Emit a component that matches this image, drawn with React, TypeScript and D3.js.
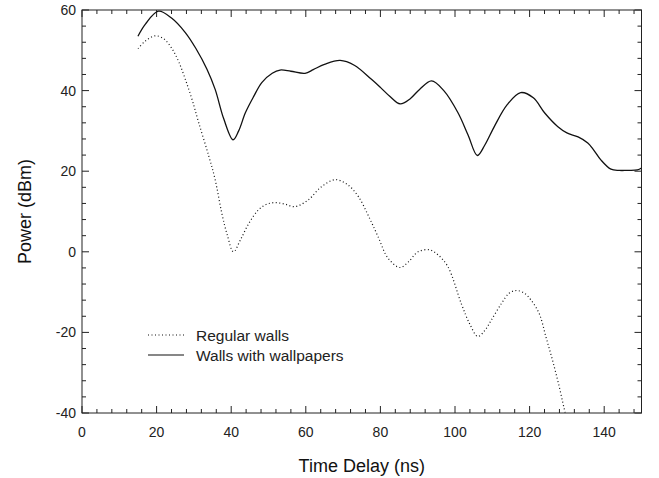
import React from "react";
import * as d3 from "d3";

const xWall = [15, 17, 20.5, 24, 27.7, 30.5, 33.5, 35.7, 38, 40.5, 42, 43.8, 46, 48.2, 51, 53.1, 56, 59.8, 62, 65, 69.2, 73, 77.6, 80, 82.5, 85.3, 88, 90.5, 93.7, 97, 100.8, 103.5, 106, 108, 110.6, 114, 117.6, 121, 124, 127.5, 130, 133, 135.6, 137, 139.1, 141.8, 144, 146, 148.9, 150];
const yWall = [53.5, 56.5, 59.7, 58, 54.4, 50.5, 45.3, 40.3, 33, 27.8, 30, 34.5, 38.5, 42, 44.3, 45.1, 44.8, 44.3, 45.2, 46.5, 47.5, 46.3, 42.8, 40.8, 38.6, 36.7, 38, 40.3, 42.4, 40, 34.5, 29, 23.9, 26.5, 31.2, 36.5, 39.5, 38.2, 34.5, 31.1, 29.5, 28.5, 27, 25.5, 22.8, 20.5, 20.2, 20.2, 20.3, 20.8];

const xReg = [15, 17, 19.7, 22, 24.2, 26, 27.7, 29.5, 31.3, 34, 35.7, 37.5, 39, 40.6, 42.5, 44.7, 47.3, 49.5, 51.8, 54.5, 57.1, 60.7, 64, 67.8, 71, 74.1, 77, 79.4, 82, 85.2, 87.5, 90.1, 93.2, 95.5, 98.1, 101.7, 104, 106.1, 108, 109.7, 112.4, 114.5, 116.4, 118.5, 120.4, 122.6, 124.4, 126.2, 128, 129.5, 131];
const yReg = [50.4, 52.3, 53.6, 52.8, 50.3, 47, 42.8, 37.8, 32, 23.7, 17.9, 9.5, 4, 0, 3, 7, 10.4, 11.8, 12.2, 11.8, 11.2, 12.9, 16, 17.9, 16.8, 13.7, 8.5, 3.7, -1.5, -3.9, -2.5, 0, 0.5, -0.8, -3.7, -12.9, -18, -21, -19.5, -17, -12.9, -10.3, -9.6, -10.2, -12, -15.4, -21.2, -27.1, -33.7, -39.8, -45];

const xMajor = [0, 20, 40, 60, 80, 100, 120, 140];
const yMajor = [-40, -20, 0, 20, 40, 60];
const seriesNames = ["Regular walls", "Walls with wallpapers"];

const W = 659, H = 478;
const L = 82, R = 641.5, T = 10, B = 413;

export default function App() {
  const x = d3.scaleLinear().domain([0, 150]).range([L, R]);
  const y = d3.scaleLinear().domain([-40, 60]).range([B, T]);
  const line = d3.line<[number, number]>().x(d => x(d[0])).y(d => y(d[1])).curve(d3.curveCatmullRom.alpha(0.5));
  const wall = line(xWall.map((v, i) => [v, yWall[i]]) as [number, number][]) || "";
  const reg = line(xReg.map((v, i) => [v, yReg[i]]) as [number, number][]) || "";
  const xMinor = d3.range(0, 150, 4).filter(v => v % 20 !== 0);
  const yMinor = d3.range(-40, 60, 4).filter(v => v % 20 !== 0);
  const font = "'Liberation Sans', Arial, sans-serif";
  const stroke = "#222";
  const maj = 7, mn = 4;
  return (
    <svg width={W} height={H} style={{ position: "absolute", left: 0, top: 0, background: "#fff" }} fontFamily={font}>
      <defs>
        <clipPath id="plot"><rect x={L} y={T} width={R - L} height={B - T} /></clipPath>
      </defs>
      <rect x={0} y={0} width={W} height={H} fill="#fff" />
      <g stroke={stroke} strokeWidth={1}>
        {xMajor.map(v => (
          <g key={"xM" + v}>
            <line x1={x(v)} x2={x(v)} y1={B} y2={B - maj} />
            <line x1={x(v)} x2={x(v)} y1={T} y2={T + maj} />
          </g>
        ))}
        {xMinor.map(v => (
          <g key={"xm" + v}>
            <line x1={x(v)} x2={x(v)} y1={B} y2={B - mn} />
            <line x1={x(v)} x2={x(v)} y1={T} y2={T + mn} />
          </g>
        ))}
        {yMajor.map(v => (
          <g key={"yM" + v}>
            <line x1={L} x2={L + maj} y1={y(v)} y2={y(v)} />
            <line x1={R} x2={R - maj} y1={y(v)} y2={y(v)} />
          </g>
        ))}
        {yMinor.map(v => (
          <g key={"ym" + v}>
            <line x1={L} x2={L + mn} y1={y(v)} y2={y(v)} />
            <line x1={R} x2={R - mn} y1={y(v)} y2={y(v)} />
          </g>
        ))}
      </g>
      <g clipPath="url(#plot)" fill="none">
        <path d={reg} stroke="#111" strokeWidth={1.2} strokeDasharray="1,2.5" />
        <path d={wall} stroke="#111" strokeWidth={1.3} />
      </g>
      <rect x={L} y={T} width={R - L} height={B - T} fill="none" stroke={stroke} strokeWidth={1} />
      <g fontSize={14} fill="#222">
        {xMajor.map(v => (
          <text key={"xl" + v} x={x(v)} y={B + 24} textAnchor="middle">{v}</text>
        ))}
        {yMajor.map(v => (
          <text key={"yl" + v} x={L - 6} y={y(v) + 5} textAnchor="end">{v}</text>
        ))}
      </g>
      <text x={(L + R) / 2} y={472} textAnchor="middle" fontSize={18} fill="#111">Time Delay (ns)</text>
      <text transform={`translate(31,${(T + B) / 2}) rotate(-90)`} textAnchor="middle" fontSize={18} fill="#111">Power (dBm)</text>
      <g>
        <line x1={148} x2={184} y1={335} y2={335} stroke="#111" strokeWidth={1.2} strokeDasharray="1,2.5" />
        <text x={196} y={340.5} fontSize={15.5} fill="#222">{seriesNames[0]}</text>
        <line x1={148} x2={184} y1={355} y2={355} stroke="#111" strokeWidth={1.2} />
        <text x={196} y={360.5} fontSize={15.5} fill="#222">{seriesNames[1]}</text>
      </g>
    </svg>
  );
}
